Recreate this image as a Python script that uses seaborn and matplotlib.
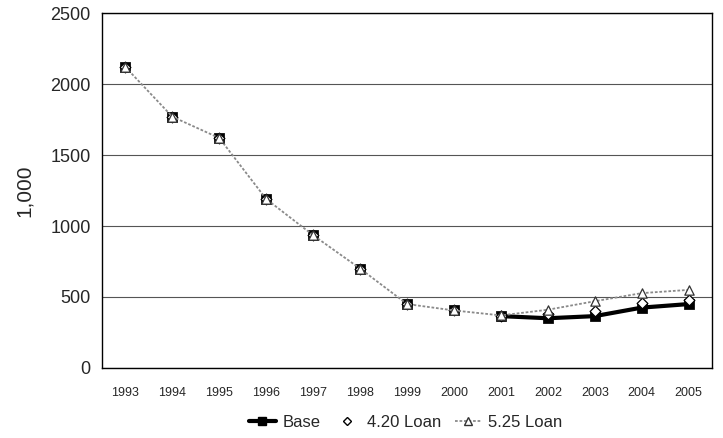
import matplotlib
matplotlib.use("Agg")
import matplotlib.pyplot as plt
import seaborn as sns
import numpy as np
import pandas as pd

years = [1993, 1994, 1995, 1996, 1997, 1998, 1999, 2000, 2001, 2002, 2003, 2004, 2005]
base = [2120, 1770, 1620, 1190, 935, 700, 450, 405, 365, 350, 365, 425, 450]
loan_420 = [2120, 1770, 1620, 1190, 935, 700, 450, 405, 365, 380, 400, 460, 480]
loan_525 = [2120, 1770, 1620, 1190, 935, 700, 450, 405, 370, 410, 470, 527, 550]
base_line_start = 2001

sns.set_theme(style="white")
plt.rcParams['font.family'] = ['Liberation Sans', 'DejaVu Sans']

fig = plt.figure(figsize=(7.23, 4.38), dpi=100)
ax = fig.add_axes([0.141, 0.160, 0.844, 0.810])

x = np.arange(len(years))
df = pd.DataFrame({"x": x, "year": years, "Base": base,
                   "4.20 Loan": loan_420, "5.25 Loan": loan_525})

# Base line (drawn only from 2001 onward) and markers at all years
sub = df[df["year"] >= base_line_start]
sns.lineplot(data=sub, x="x", y="Base", ax=ax, color="black", lw=3.0,
             zorder=3, legend=False)
sns.scatterplot(data=df, x="x", y="Base", ax=ax, marker="s", s=45,
                color="black", edgecolor="black", zorder=4, legend=False)
# 4.20 Loan: diamond markers only
sns.scatterplot(data=df, x="x", y="4.20 Loan", ax=ax, marker="D", s=30,
                facecolor="white", edgecolor="black", linewidth=0.9,
                zorder=5, legend=False)
# 5.25 Loan: dotted grey line with triangles
sns.lineplot(data=df, x="x", y="5.25 Loan", ax=ax, color="#8a8a8a", lw=1.3,
             linestyle=(0, (1.5, 1)), zorder=5, legend=False)
sns.scatterplot(data=df, x="x", y="5.25 Loan", ax=ax, marker="^", s=45,
                facecolor="white", edgecolor="#333333", linewidth=0.9,
                zorder=6, legend=False)

ax.set_xlim(-0.5, len(years) - 0.5)
ax.set_ylim(0, 2500)
ax.set_yticks([0, 500, 1000, 1500, 2000, 2500])
ax.set_yticklabels(["0", "500", "1000", "1500", "2000", "2500"], fontsize=13,
                   fontweight="medium")
ax.set_xticks(x)
ax.set_xticklabels([str(y) for y in years], fontsize=9)
ax.tick_params(axis="x", pad=14, length=0)
ax.tick_params(axis="y", pad=8, length=0)
ax.yaxis.grid(True, color="#555555", lw=0.8)
ax.set_axisbelow(True)
for s in ax.spines.values():
    s.set_visible(True)
    s.set_color("black")
    s.set_linewidth(1.0)
ax.set_xlabel("")
ax.set_ylabel("1,000", fontsize=15, labelpad=12)

from matplotlib.lines import Line2D
handles = [
    Line2D([], [], color="black", lw=3, marker="s", markersize=6),
    Line2D([], [], color="none", marker="D", markersize=4.5,
           markerfacecolor="white", markeredgecolor="black"),
    Line2D([], [], color="#8a8a8a", lw=1.3, linestyle=(0, (1.5, 1)),
           marker="^", markersize=6, markerfacecolor="white",
           markeredgecolor="#333333"),
]
fig.legend(handles, ["Base", "4.20 Loan", "5.25 Loan"], loc="center",
           bbox_to_anchor=(0.561, 0.035), ncol=3, frameon=False,
           fontsize=12, handlelength=1.6, columnspacing=0.8,
           handletextpad=0.4)

fig.savefig("out.png", dpi=100)
